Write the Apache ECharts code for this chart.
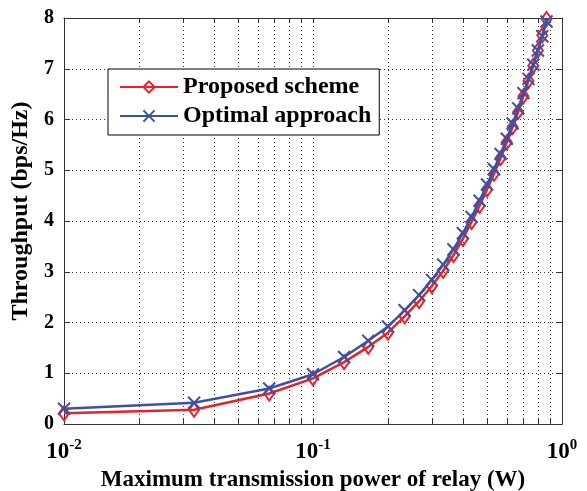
<!DOCTYPE html>
<html>
<head>
<meta charset="utf-8">
<script src="https://cdn.jsdelivr.net/npm/echarts@6/dist/echarts.min.js"></script>
<style>
  html, body { margin: 0; padding: 0; background: #fff; }
  #chart { width: 587px; height: 491px; }
</style>
</head>
<body>
<div id="chart"></div>
<script>
// 中继最大发射功率 (W)
const powerW = [0.01, 0.0333, 0.0667, 0.1, 0.1333, 0.1667, 0.2, 0.2333, 0.2667, 0.3,
  0.3333, 0.3667, 0.4, 0.4333, 0.4667, 0.5, 0.5333, 0.5667, 0.6, 0.6333,
  0.6667, 0.7, 0.7333, 0.7667, 0.8, 0.8333, 0.8667];
const proposed = [0.21, 0.28, 0.60, 0.90, 1.22, 1.52, 1.80, 2.12, 2.42, 2.72,
  3.02, 3.33, 3.65, 3.98, 4.30, 4.62, 4.93, 5.24, 5.55, 5.85,
  6.15, 6.46, 6.76, 7.06, 7.36, 7.66, 7.98];
const optimal = [0.30, 0.42, 0.70, 0.98, 1.32, 1.64, 1.92, 2.24, 2.54, 2.84,
  3.14, 3.44, 3.76, 4.08, 4.40, 4.72, 5.02, 5.32, 5.62, 5.92,
  6.22, 6.52, 6.80, 7.08, 7.36, 7.64, 7.93];
const xTickValues = [0.01, 0.02, 0.03, 0.04, 0.05, 0.06, 0.07, 0.08, 0.09,
  0.1, 0.2, 0.3, 0.4, 0.5, 0.6, 0.7, 0.8, 0.9, 1];
const xLabelValues = [0.01, 0.1, 1];
const xLabelExp = { 0.01: "-2", 0.1: "-1", 1: "0" };

const font = "Liberation Serif";
const red = "#ee2027";
const blue = "#3a52a4";

let myChart = echarts.init(document.getElementById("chart"));

const toPairs = (ys) => ys.map((y, i) => [powerW[i], y]);

let options = {
    animation: false,
    backgroundColor: "#fff",
    grid: { left: 64, right: 25, top: 18, bottom: 67, containLabel: false, outerBoundsMode: "none" },
    legend: {
        left: 108,
        top: 69,
        orient: "vertical",
        backgroundColor: "#fff",
        borderColor: "#000",
        borderWidth: 1,
        padding: [6, 8, 7, 11],
        itemGap: 5,
        itemWidth: 58,
        itemHeight: 14,
        textStyle: {
            fontFamily: font,
            fontSize: 24,
            fontWeight: "bold",
            color: "#000",
            lineHeight: 24,
        },
        data: ["Proposed scheme", "Optimal approach"],
    },
    xAxis: [
        {
            type: "log",
            min: 0.01,
            max: 1,
            logBase: 10,
            name: "Maximum transmission power of relay (W)",
            nameLocation: "middle",
            nameGap: 44,
            nameTextStyle: {
                fontFamily: font,
                fontSize: 23,
                fontWeight: "bold",
                color: "#000",
            },
            axisLine: { onZero: false, lineStyle: { color: "#333", width: 1 } },
            axisTick: { inside: true, length: 5, customValues: xTickValues, lineStyle: { color: "#333" } },
            axisLabel: {
                customValues: xLabelValues,
                margin: 14,
                formatter: (v) => "10{sup|" + xLabelExp[v] + "}",
                fontFamily: font,
                fontSize: 23,
                fontWeight: "bold",
                color: "#000",
                rich: {
                    sup: {
                        fontFamily: font,
                        fontSize: 15,
                        fontWeight: "bold",
                        color: "#000",
                        verticalAlign: "bottom",
                        padding: [0, 0, 13, 0],
                    },
                },
            },
            splitLine: { show: true, lineStyle: { color: "#333", width: 1, type: [1, 3] } },
        },
        {
            type: "log",
            min: 0.01,
            max: 1,
            logBase: 10,
            position: "top",
            axisLine: { onZero: false, lineStyle: { color: "#333", width: 1 } },
            axisTick: { inside: true, length: 5, customValues: xTickValues, lineStyle: { color: "#333" } },
            axisLabel: { show: false },
            splitLine: { show: false },
        },
    ],
    yAxis: [
        {
            type: "value",
            min: 0,
            max: 8,
            interval: 1,
            name: "Throughput (bps/Hz)",
            nameLocation: "middle",
            nameRotate: 90,
            nameGap: 30,
            nameTextStyle: {
                fontFamily: font,
                fontSize: 24,
                fontWeight: "bold",
                color: "#000",
                padding: [0, 0, 0, 20],
            },
            axisLine: { show: true, lineStyle: { color: "#333", width: 1 } },
            axisTick: { inside: true, length: 6, lineStyle: { color: "#333" } },
            axisLabel: {
                margin: 10,
                fontFamily: font,
                fontSize: 20,
                fontWeight: "bold",
                color: "#000",
            },
            splitLine: { show: true, lineStyle: { color: "#333", width: 1, type: [1, 3] } },
        },
        {
            type: "value",
            min: 0,
            max: 8,
            interval: 1,
            position: "right",
            axisLine: { show: true, lineStyle: { color: "#333", width: 1 } },
            axisTick: { inside: true, length: 6, lineStyle: { color: "#333" } },
            axisLabel: { show: false },
            splitLine: { show: false },
        },
    ],
    series: [
        {
            name: "Proposed scheme",
            type: "line",
            data: toPairs(proposed),
            symbol: "diamond",
            symbolSize: [10, 14],
            lineStyle: { color: red, width: 2.5 },
            itemStyle: { color: "rgba(255,255,255,0)", borderColor: red, borderWidth: 2 },
            z: 2,
        },
        {
            name: "Optimal approach",
            type: "line",
            data: toPairs(optimal),
            symbol: "path://M0,0L10,10M0,10L10,0",
            symbolSize: 12,
            lineStyle: { color: blue, width: 2.5 },
            itemStyle: { color: "rgba(255,255,255,0)", borderColor: blue, borderWidth: 2 },
            z: 3,
        },
    ],
};
myChart.setOption(options);
</script>
</body>
</html>
